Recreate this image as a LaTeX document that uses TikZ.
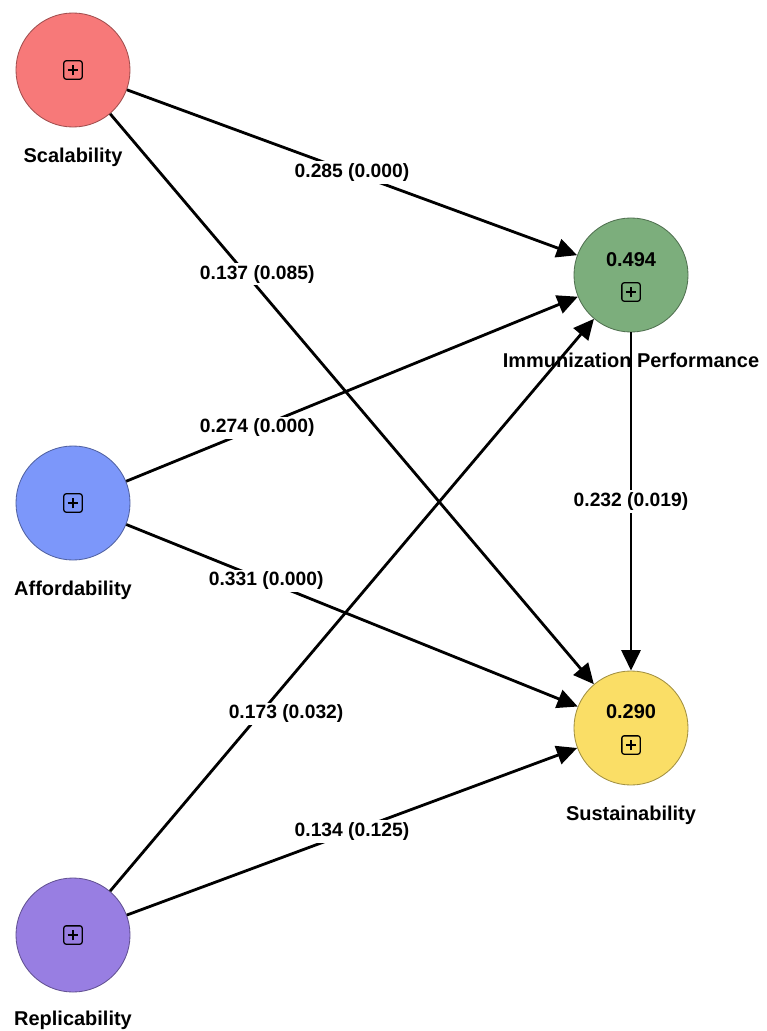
\documentclass[tikz,border=0pt]{standalone}
\usepackage{fontspec}
\setmainfont{Liberation Sans}
\usepackage{tikz}
\usetikzlibrary{arrows.meta, positioning, shapes.geometric}

\definecolor{scalred}{RGB}{247,121,121}
\definecolor{affblue}{RGB}{124,151,250}
\definecolor{repviolet}{RGB}{152,126,226}
\definecolor{perfgreen}{RGB}{124,174,124}
\definecolor{sustyellow}{RGB}{250,222,102}

\tikzset{
  construct/.style={circle, minimum size=2.85cm, inner sep=0pt, line width=0.6pt},
  expbox/.style={draw, line width=0.9pt, rounded corners=1.5pt, minimum size=13pt, inner sep=0pt,
    path picture={\draw[line width=0.9pt]
      ([xshift=-3.8pt]path picture bounding box.center) -- ([xshift=3.8pt]path picture bounding box.center)
      ([yshift=-3.8pt]path picture bounding box.center) -- ([yshift=3.8pt]path picture bounding box.center);}},
  link/.style={line width=2pt, -{Triangle[length=14.5pt,width=13.5pt]}},
  coef/.style={fill=white, inner sep=1.5pt, font=\bfseries\fontsize{13.7}{16}\selectfont},
  cname/.style={inner sep=0pt, font=\bfseries\fontsize{14.2}{16}\selectfont}
}

\begin{document}
\begin{tikzpicture}[x=0.025cm, y=-0.025cm]
  \useasboundingbox (0,0) rectangle (767,1031);

  % Constructs
  \node[construct, fill=scalred, draw=scalred!65!black] (scal) at (73,70) {};
  \node[construct, fill=affblue, draw=affblue!65!black] (aff) at (73,503) {};
  \node[construct, fill=repviolet, draw=repviolet!65!black] (rep) at (73,935) {};
  \node[construct, fill=perfgreen, draw=perfgreen!65!black] (perf) at (631,275) {};
  \node[construct, fill=sustyellow, draw=sustyellow!65!black] (sust) at (631,728) {};

  % Names
  \node[cname, below=0.5cm of scal] (scalname) {Scalability};
  \node[cname, below=0.5cm of aff] (affname) {Affordability};
  \node[cname, below=0.45cm of rep] (repname) {Replicability};
  \node[cname, below=0.5cm of perf] (perfname) {Immunization Performance};
  \node[cname, below=0.5cm of sust] (sustname) {Sustainability};

  % R squared and expand boxes
  \node[cname] (perfr2) at (631,260) {0.494};
  \node[cname] (sustr2) at (631,712) {0.290};
  \node[expbox] (scalexp) at (73,70) {};
  \node[expbox] (affexp) at (73,503) {};
  \node[expbox] (repexp) at (73,935) {};
  \node[expbox] (perfexp) at (631,292) {};
  \node[expbox] (sustexp) at (631,745) {};

  % Paths
  \draw[link] (scal) -- node[coef, pos=0.5] (c1) {0.285 (0.000)} (perf);
  \draw[link] (scal) -- node[coef, pos=0.281, xshift=0.28cm] (c2) {0.137 (0.085)} (sust);
  \draw[link] (aff) -- node[coef, pos=0.29] (c3) {0.274 (0.000)} (perf);
  \draw[link] (aff) -- node[coef, pos=0.31] (c4) {0.331 (0.000)} (sust);
  \draw[link] (rep) -- node[coef, pos=0.31, xshift=0.65cm] (c5) {0.173 (0.032)} (perf);
  \draw[link] (rep) -- node[coef, pos=0.5] (c6) {0.134 (0.125)} (sust);
  \draw[link] (perf) -- node[coef, pos=0.5] (c7) {0.232 (0.019)} (sust);
\end{tikzpicture}
\end{document}
